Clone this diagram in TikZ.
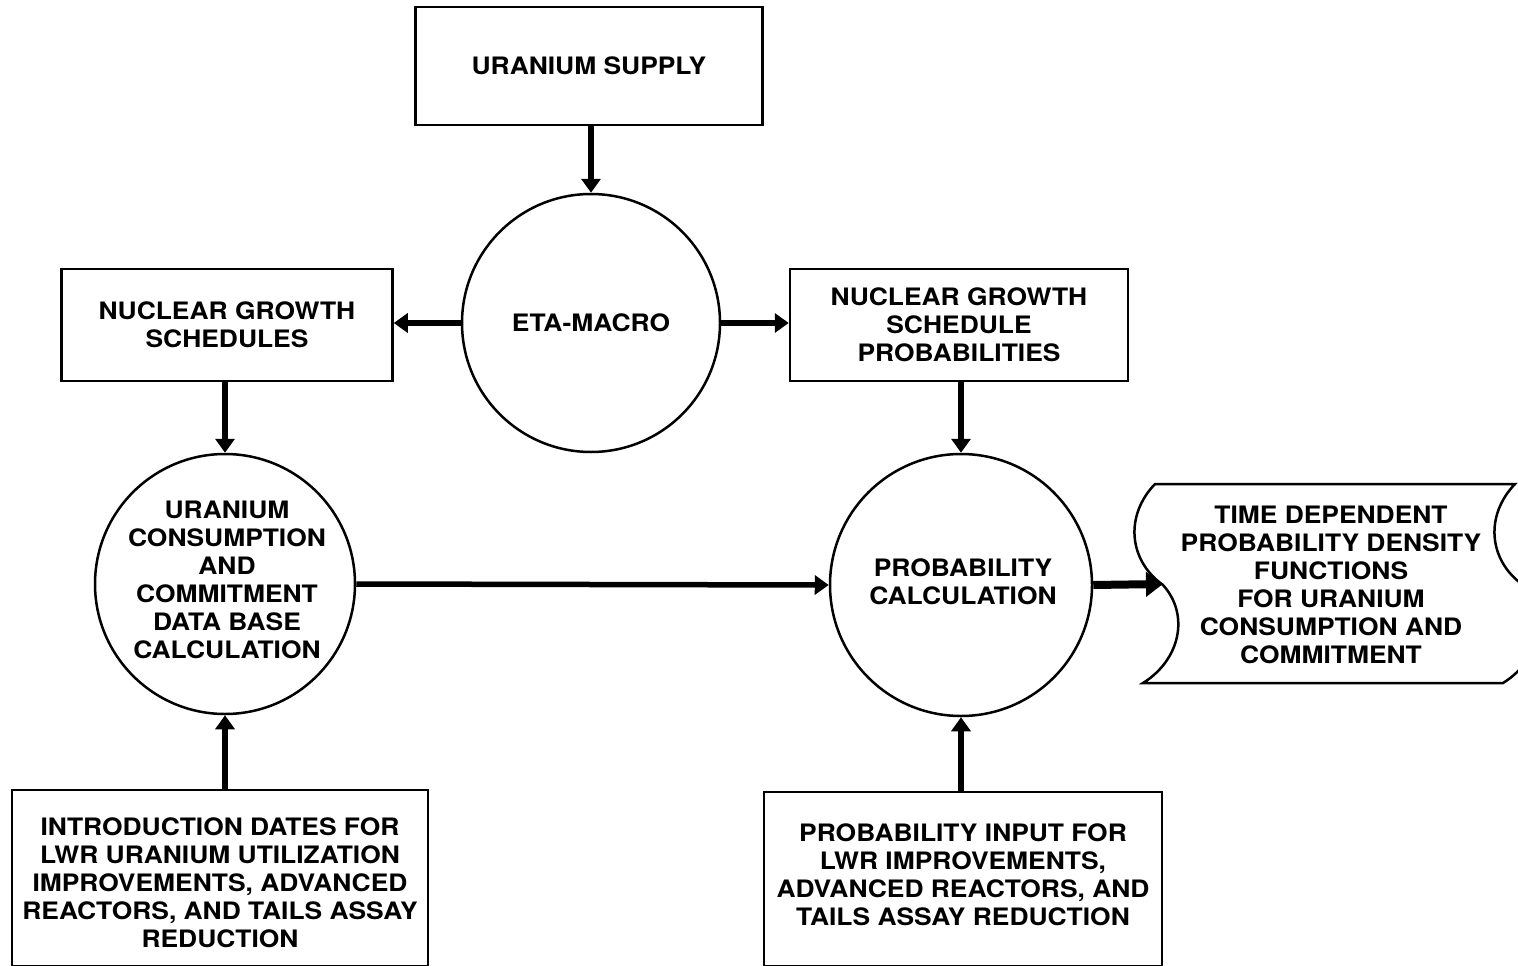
\documentclass[tikz,border=0pt]{standalone}
\usepackage{fontspec}
\setmainfont{TeX Gyre Heros}[FakeStretch=1.1]
\usetikzlibrary{arrows.meta}

\begin{document}
\begin{tikzpicture}[x=1pt,y=-1pt,
 font=\bfseries\fontsize{24}{28}\selectfont,
 block/.style ={rectangle, draw=black, line width=2.5pt, fill=white, align=center, inner sep=0pt},
 proc/.style ={circle, draw=black, line width=2.5pt, fill=white, inner sep=0pt},
 txt/.style ={align=center, inner sep=0pt},
 line/.style ={draw, line width=5.5pt, -{Triangle[length=14pt,width=19pt]}},
 bigline/.style ={draw, line width=8pt, -{Triangle[length=17pt,width=24pt]}}]

\useasboundingbox (0,0) rectangle (1518,966);

\draw (589,66) node[block, minimum width=347, minimum height=118] (Supply) {URANIUM SUPPLY};

\draw (591,323) node[proc, minimum size=258] (Eta) {};
\draw (Eta) node[txt] (EtaText) {ETA-MACRO};

\draw (227,325) node[block, minimum width=331, minimum height=112] (Ngs) {NUCLEAR GROWTH\\SCHEDULES};
\draw (959,325) node[block, minimum width=338, minimum height=112] (Ngsp) {NUCLEAR GROWTH\\SCHEDULE\\PROBABILITIES};

\draw (225,584) node[proc, minimum size=260] (Ucc) {};
\draw (227,580) node[txt] (UccText) {URANIUM\\CONSUMPTION\\AND\\COMMITMENT\\DATA BASE\\CALCULATION};

\draw (961,585) node[proc, minimum size=262] (Pcalc) {};
\draw (963,582) node[txt] (PcalcText) {PROBABILITY\\CALCULATION};

% punched tape output
\draw[line width=2.5pt, fill=white] (1155,484) -- (1515,484)
 .. controls (1485,515) and (1488,560) .. (1523,585)
 .. controls (1550,615) and (1540,660) .. (1503,683)
 -- (1143,683)
 .. controls (1180,660) and (1190,615) .. (1163,585)
 .. controls (1128,560) and (1125,515) .. cycle;
\coordinate (PdfIn) at (1163,584);
\draw (1331,585) node[txt] (Pdf) {TIME DEPENDENT\\PROBABILITY DENSITY\\FUNCTIONS\\FOR URANIUM\\CONSUMPTION AND\\COMMITMENT};

\draw (220,878) node[block, minimum width=416, minimum height=176] (Intro) {};
\draw (220,883) node[txt] (IntroText) {INTRODUCTION DATES FOR\\LWR URANIUM UTILIZATION\\IMPROVEMENTS, ADVANCED\\REACTORS, AND TAILS ASSAY\\REDUCTION};
\draw (963,879) node[block, minimum width=398, minimum height=174] (Pin) {};
\draw (963,875) node[txt] (PinText) {PROBABILITY INPUT FOR\\LWR IMPROVEMENTS,\\ADVANCED REACTORS, AND\\TAILS ASSAY REDUCTION};

	\draw [line] (Supply.south -| Eta) to (Eta.north);
	\draw [line] (Eta.west) to (Ngs.east |- Eta);
	\draw [line] (Eta.east) to (Ngsp.west |- Eta);
	\draw [line] (Ngs.south -| Ucc) to (Ucc.north);
	\draw [line] (Ngsp.south -| Pcalc) to (Pcalc.north);
	\draw [line] (Ucc.east) to (Pcalc.west);
	\draw [line] (Intro.north -| Ucc) to (Ucc.south);
	\draw [line] (Pin.north -| Pcalc) to (Pcalc.south);
	\draw [bigline] (Pcalc.east) to (PdfIn);

\end{tikzpicture}
\end{document}
